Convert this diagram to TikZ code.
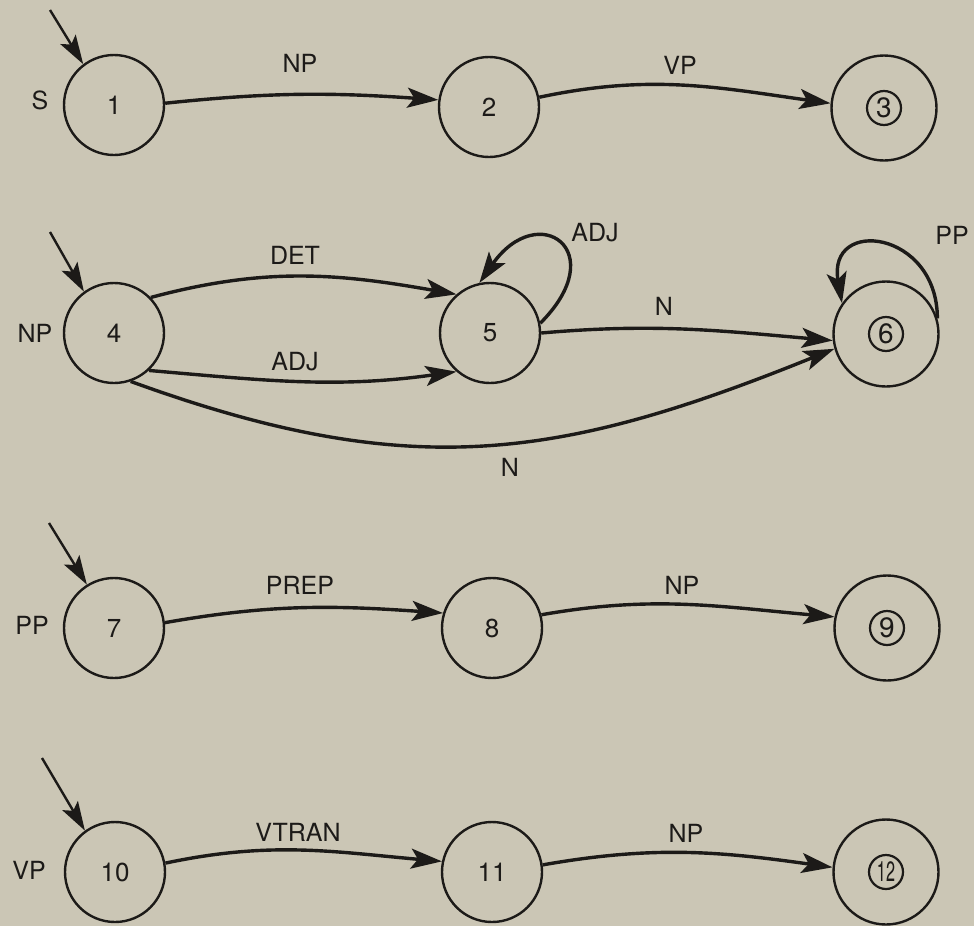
\documentclass[tikz,border=0pt]{standalone}
\usepackage{fontspec}
\setmainfont{TeX Gyre Heros}
\usetikzlibrary{arrows.meta}
\definecolor{bg}{RGB}{203,198,181}
\definecolor{ink}{RGB}{28,26,24}
\begin{document}
\begin{tikzpicture}[x=1pt,y=1pt,
  state/.style={circle,draw=ink,line width=2.4pt,minimum size=100pt,inner sep=0pt,
    font=\fontsize{26}{26}\selectfont,text=ink},
  fin/.style={state,minimum size=105pt},
  innerc/.style={circle,draw=ink,line width=2.2pt,minimum size=34pt,inner sep=0pt,
    font=\fontsize{28}{28}\selectfont,text=ink},
  trans/.style={draw=ink,line width=3.4pt,-{Stealth[length=31pt,width=20pt,inset=7pt]}},
  initarrow/.style={draw=ink,line width=2.4pt,-{Stealth[length=29pt,width=18pt,inset=6pt]}},
  lab/.style={font=\fontsize{25}{25}\selectfont,text=ink,inner sep=0pt}]
\fill[bg] (0,0) rectangle (974,-926);
\useasboundingbox (0,0) rectangle (974,-926);

% Row 1: S
\node[state] (n1) at (114,-105) {1};
\node[state] (n2) at (489,-107) {2};
\node[fin] (n3) at (884,-108) {};
\node[innerc] (c3) at (n3) {3};
\coordinate (s1) at (50,-10);
\draw[initarrow] (s1) -- (n1.127);
\node[lab] (ls) at (40,-100) {S};
\draw[trans] (n1.2) to[out=6,in=176] (n2.172);
\node[lab] (l12) at (300,-63) {NP};
\draw[trans] (n2.11) to[out=12,in=172] (n3.175);
\node[lab] (l23) at (680,-65) {VP};

% Row 2: NP
\node[state] (n4) at (114,-333) {4};
\node[state] (n5) at (490,-333) {5};
\node[fin] (n6) at (886,-334) {};
\node[innerc] (c6) at (n6) {6};
\coordinate (s4) at (50,-232);
\draw[initarrow] (s4) -- (n4.126);
\node[lab] (lnp) at (35,-333) {NP};
\draw[trans] (n4.44) to[out=15,in=170] (n5.131);
\node[lab] (ldet) at (295,-255) {DET};
\draw[trans] (n4.-47) to[out=-5,in=188] (n5.229);
\node[lab] (ladj) at (295,-362) {ADJ};
\draw[trans] (n4.-71) to[out=-20,in=202,looseness=1.08] (n6.196);
\node[lab] (ln46) at (510,-467) {N};
\draw[trans] (n5.0) to[out=5,in=175] (n6.187);
\node[lab] (ln56) at (664,-306) {N};
\draw[trans] (n5.11) to[out=45,in=55,looseness=3.6] (n5.102);
\node[lab] (ladj5) at (595,-233) {ADJ};
\draw[trans] (n6.17) to[out=90,in=100,looseness=2.33] (n6.145);
\node[lab] (lpp6) at (952,-235) {PP};

% Row 3: PP
\node[state] (n7) at (114,-628) {7};
\node[state] (n8) at (492,-628) {8};
\node[fin] (n9) at (887,-628) {};
\node[innerc] (c9) at (n9) {9};
\coordinate (s7) at (49,-523);
\draw[initarrow] (s7) -- (n7.122);
\node[lab] (lpp) at (32,-625) {PP};
\draw[trans] (n7.6) to[out=10,in=176] (n8.163);
\node[lab] (lprep) at (300,-585) {PREP};
\draw[trans] (n8.15) to[out=10,in=175] (n9.168);
\node[lab] (l89) at (682,-585) {NP};

% Row 4: VP
\node[state] (n10) at (115,-872) {10};
\node[state] (n11) at (492,-872) {11};
\node[fin] (n12) at (886,-872) {};
\node[innerc] (c12) at (n12) {\scalebox{0.58}[1]{12}};
\coordinate (s10) at (42,-758);
\draw[initarrow] (s10) -- (n10.126);
\node[lab] (lvp) at (29,-870) {VP};
\draw[trans] (n10.10) to[out=12,in=175] (n11.168);
\node[lab] (lvtran) at (298,-832) {VTRAN};
\draw[trans] (n11.8) to[out=10,in=172] (n12.175);
\node[lab] (l1112) at (686,-833) {NP};
\end{tikzpicture}
\end{document}
